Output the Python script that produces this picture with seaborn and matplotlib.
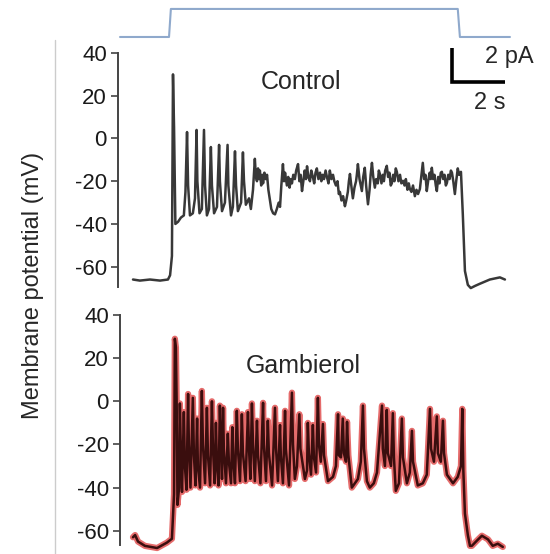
import numpy as np
import pandas as pd
import matplotlib
matplotlib.use("Agg")
import matplotlib.pyplot as plt
import seaborn as sns
from matplotlib.lines import Line2D

# current step (top trace), time in s, amplitude in pA
stim_t = [-0.49, 1.36, 1.43, 12.26, 12.34, 14.23]
stim_pA = [0, 0, 1.6, 1.6, 0, 0]

# control recording (s, mV)
ctrl_t = [0.00, 0.26, 0.64, 1.02, 1.32, 1.40, 1.47, 1.51, 1.55, 1.60, 1.70, 1.81,
          1.92, 1.98, 2.04, 2.08, 2.15, 2.26, 2.34, 2.40, 2.43, 2.51, 2.60, 2.68,
          2.72, 2.79, 2.87, 2.94, 2.98, 3.06, 3.17, 3.25, 3.28, 3.36, 3.47, 3.57,
          3.60, 3.70, 3.77, 3.85, 3.89, 3.96, 4.08, 4.15, 4.19, 4.26, 4.38, 4.45,
          4.53, 4.60, 4.64, 4.68, 4.72, 4.76, 4.79, 4.84, 4.88, 4.91, 4.96, 5.01,
          5.06, 5.11, 5.17, 5.22, 5.29, 5.36, 5.43, 5.50, 5.55, 5.60, 5.66, 5.70,
          5.74, 5.81, 5.86, 5.91, 5.96, 6.00, 6.05, 6.11, 6.16, 6.23, 6.28, 6.33,
          6.38, 6.43, 6.48, 6.53, 6.57, 6.62, 6.68, 6.73, 6.79, 6.84, 6.89, 6.94,
          7.00, 7.06, 7.11, 7.16, 7.21, 7.27, 7.32, 7.38, 7.43, 7.49, 7.55, 7.60,
          7.66, 7.72, 7.77, 7.81, 7.87, 7.93, 8.00, 8.05, 8.11, 8.15, 8.19, 8.24,
          8.30, 8.36, 8.42, 8.45, 8.49, 8.55, 8.60, 8.64, 8.69, 8.75, 8.80, 8.87,
          8.93, 8.97, 9.02, 9.07, 9.13, 9.18, 9.24, 9.28, 9.32, 9.38, 9.43, 9.47,
          9.52, 9.58, 9.63, 9.68, 9.73, 9.77, 9.82, 9.87, 9.92, 9.96, 10.02, 10.08,
          10.13, 10.19, 10.25, 10.30, 10.36, 10.41, 10.45, 10.51, 10.57, 10.64,
          10.70, 10.76, 10.83, 10.88, 10.94, 10.99, 11.04, 11.09, 11.14, 11.20,
          11.24, 11.28, 11.33, 11.38, 11.43, 11.47, 11.52, 11.57, 11.62, 11.66,
          11.71, 11.76, 11.81, 11.85, 11.90, 11.95, 12.00, 12.04, 12.09, 12.15,
          12.20, 12.26, 12.31, 12.38, 12.45, 12.53, 12.64, 12.75, 12.91, 13.09,
          13.47, 13.85, 14.04]
ctrl_mV = [-66, -66.5, -66, -66.5, -66, -64, -55, 30, 5, -40, -39, -37,
           -36, -25, 3, -22, -36, -35, -28, 4, -20, -35, -33, 4,
           -22, -36, -33, -4, -22, -35, -32, -3, -20, -34, -30, -3,
           -22, -36, -32, -6, -22, -34, -30, -6.5, -20, -31, -28, -33,
           -24, -9.5, -18, -20, -14, -19, -15, -22, -17, -21, -16, -19,
           -17, -24, -29, -33, -35, -35.5, -33, -30, -32, -22, -12, -20,
           -16, -22, -18, -23, -19, -21, -17, -19, -15, -12, -20, -17,
           -24.6, -20, -15, -19, -13, -18, -20, -15, -18, -21, -16, -14,
           -19, -16, -20, -17, -19, -15, -18, -21, -15, -19, -17, -20,
           -22, -20, -26, -25, -29, -27, -31.7, -29, -25, -20, -16.6, -22,
           -28, -23, -20, -17, -12, -19, -22, -24.6, -18, -13.7, -22, -30.8,
           -24, -17, -11.4, -18, -23, -19, -21, -15, -16.6, -21, -17, -20,
           -15, -12.8, -18, -16, -22, -21, -17, -20, -14, -15.6, -20, -17,
           -21, -19.8, -22, -19, -24, -21, -23.6, -25, -22, -27,
           -24, -26, -23.6, -18, -11.4, -19, -17, -24.6, -20, -16,
           -19, -13.7, -19, -17, -22, -24.6, -18, -21, -16, -15.6,
           -19, -17, -22, -20.8, -17, -19, -15, -16, -20, -26,
           -20, -14, -17, -15.6, -35.5, -62, -68.5, -70, -69, -68,
           -66, -65, -66]

# gambierol recording (s, mV)
gamb_t = [0.00, 0.08, 0.19, 0.45, 0.91, 1.13, 1.28, 1.47, 1.55, 1.58, 1.62, 1.65,
          1.68, 1.74, 1.77, 1.81, 1.85, 1.92, 1.96, 2.02, 2.08, 2.11, 2.17, 2.26,
          2.30, 2.36, 2.42, 2.45, 2.53, 2.60, 2.64, 2.72, 2.79, 2.83, 2.91, 2.98,
          3.02, 3.08, 3.13, 3.17, 3.23, 3.28, 3.32, 3.36, 3.40, 3.43, 3.51, 3.58,
          3.62, 3.70, 3.75, 3.79, 3.85, 3.92, 3.96, 4.04, 4.11, 4.15, 4.25, 4.34,
          4.38, 4.43, 4.49, 4.53, 4.60, 4.68, 4.72, 4.81, 4.91, 4.94, 5.02, 5.09,
          5.13, 5.25, 5.36, 5.40, 5.47, 5.55, 5.58, 5.66, 5.74, 5.77, 5.89, 6.00,
          6.04, 6.11, 6.19, 6.28, 6.32, 6.49, 6.57, 6.60, 6.64, 6.72, 6.79, 6.83,
          6.91, 6.98, 7.02, 7.09, 7.17, 7.21, 7.36, 7.55, 7.66, 7.74, 7.77, 7.85,
          7.92, 7.96, 8.04, 8.08, 8.13, 8.26, 8.49, 8.60, 8.68, 8.72, 8.83, 8.94,
          9.09, 9.21, 9.40, 9.43, 9.51, 9.58, 9.62, 9.74, 9.81, 9.85, 9.92, 10.04,
          10.15, 10.19, 10.34, 10.45, 10.53, 10.57, 10.75, 10.94, 11.09, 11.21,
          11.25, 11.36, 11.47, 11.51, 11.62, 11.70, 11.74, 11.85, 12.08, 12.26,
          12.38, 12.43, 12.47, 12.53, 12.64, 12.72, 12.79, 12.98, 13.17, 13.40,
          13.58, 13.77, 13.96]
gamb_mV = [-63, -62, -65, -67, -68, -66.5, -65.5, -63.7, -43, 29, 25, -2,
           -48, -40, -1, -25, -42, -5, -30, -41, 3.4, -20, -40, 1.6,
           -25, -39, -8, -30, -40, 4.8, -20, -38, -3, -25, -39, 0,
           -22, -38, -10, -30, -39, -2, -20, -36, -3, -22, -38, -15,
           -28, -38, -12, -28, -38, -4.4, -22, -37, -6, -24, -37, -5,
           -22, -36, -1, -20, -37, -9, -25, -38, -0.7, -20, -37, -9,
           -24, -39, -3, -22, -37, -11, -25, -38, -4.4, -22, -39, 4,
           -20, -36, -30, -6, -22, -36, -32, -10, -24, -34, -11, -26,
           -33, 1.6, -20, -28, -10.5, -25, -37, -35, -30, -6, -25, -26,
           -8, -24, -28, -9.5, -25, -40, -36, -28, -2, -22, -37, -40,
           -38, -33, -2, -22, -30, -4, -24, -30, -5.5, -26, -41.5, -38,
           -8, -26, -38, -33, -13.7, -28, -39, -38, -34, -3.5,
           -22, -28, -7, -24, -28, -9, -24, -34, -38, -35,
           -30, -3.5, -32, -52, -62, -67, -67, -64.6, -62.3, -64,
           -67, -66, -67.5]

yticks = [-60, -40, -20, 0, 20, 40]

sns.set_theme(style="white")
plt.rcParams['font.family'] = ['Liberation Sans', 'DejaVu Sans']

W, H = 550, 554
fig = plt.figure(figsize=(W / 100, H / 100), dpi=100)

def px_box(left, top, right, bottom):
    return [left / W, 1 - bottom / H, (right - left) / W, (bottom - top) / H]

ax_stim = fig.add_axes(px_box(118, 0, 515, 45))
ax_ctrl = fig.add_axes(px_box(118, 53, 515, 287))
ax_gamb = fig.add_axes(px_box(120, 315, 515, 545))

# stimulus step
sns.lineplot(x=stim_t, y=stim_pA, ax=ax_stim, color="#8fa9cc", lw=1.5,
             sort=False, estimator=None)
ax_stim.set_xlim(-0.566, 14.42)
ax_stim.set_ylim(-0.457, 2.11)
ax_stim.axis("off")

# control trace
ctrl = pd.DataFrame({"t": ctrl_t, "mV": ctrl_mV})
sns.lineplot(data=ctrl, x="t", y="mV", ax=ax_ctrl, color="#383838", lw=1.8,
             sort=False, estimator=None)
ax_ctrl.lines[-1].set_clip_on(False)
ax_ctrl.set_xlim(-0.566, 14.42)
ax_ctrl.set_ylim(-69.5, 40)

# gambierol trace: red halo under a dark core
gamb = pd.DataFrame({"t": gamb_t, "mV": gamb_mV})
sns.lineplot(data=gamb, x="t", y="mV", ax=ax_gamb, color="#e56b6b", lw=4.5,
             sort=False, estimator=None)
sns.lineplot(data=gamb, x="t", y="mV", ax=ax_gamb, color="#3a0e0e", lw=1.8,
             sort=False, estimator=None)
for ln in ax_gamb.lines:
    ln.set_clip_on(False)
ax_gamb.set_xlim(-0.49, 14.42)
ax_gamb.set_ylim(-66.6, 40)

for ax in (ax_ctrl, ax_gamb):
    ax.set_yticks(yticks)
    ax.set_yticklabels([str(v) for v in yticks])
    ax.set_xticks([])
    ax.set_xlabel("")
    ax.set_ylabel("")
    for s in ("top", "right", "bottom"):
        ax.spines[s].set_visible(False)
    ax.spines["left"].set_color("#444444")
    ax.spines["left"].set_linewidth(1.4)
    ax.tick_params(axis="y", left=True, direction="out", length=5, width=1.2,
                   color="#444444", labelsize=16, labelcolor="#1a1a1a", pad=3)
    ax.set_facecolor("none")

# scale bar (2 pA / 2 s)
ax_ctrl.plot([12.04, 12.04, 14.04], [42.4, 26.3, 26.3], color="black", lw=2.6,
             clip_on=False, solid_capstyle="butt", solid_joinstyle="miter")

fig.text(509 / W, 1 - 57 / H, "2 pA", fontsize=17, ha="center", va="center")
fig.text(490 / W, 1 - 103 / H, "2 s", fontsize=17, ha="center", va="center")
fig.text(301 / W, 1 - 82 / H, "Control", fontsize=18, ha="center", va="center")
fig.text(303 / W, 1 - 366 / H, "Gambierol", fontsize=18, ha="center", va="center")
fig.text(33 / W, 1 - 285 / H, "Membrane potential (mV)", fontsize=17,
         rotation=90, ha="center", va="center")

# thin separator left of the axes
fig.add_artist(Line2D([55 / W, 55 / W], [1 - 40 / H, 0], color="#cccccc", lw=1))

fig.savefig("out.png", dpi=100)
